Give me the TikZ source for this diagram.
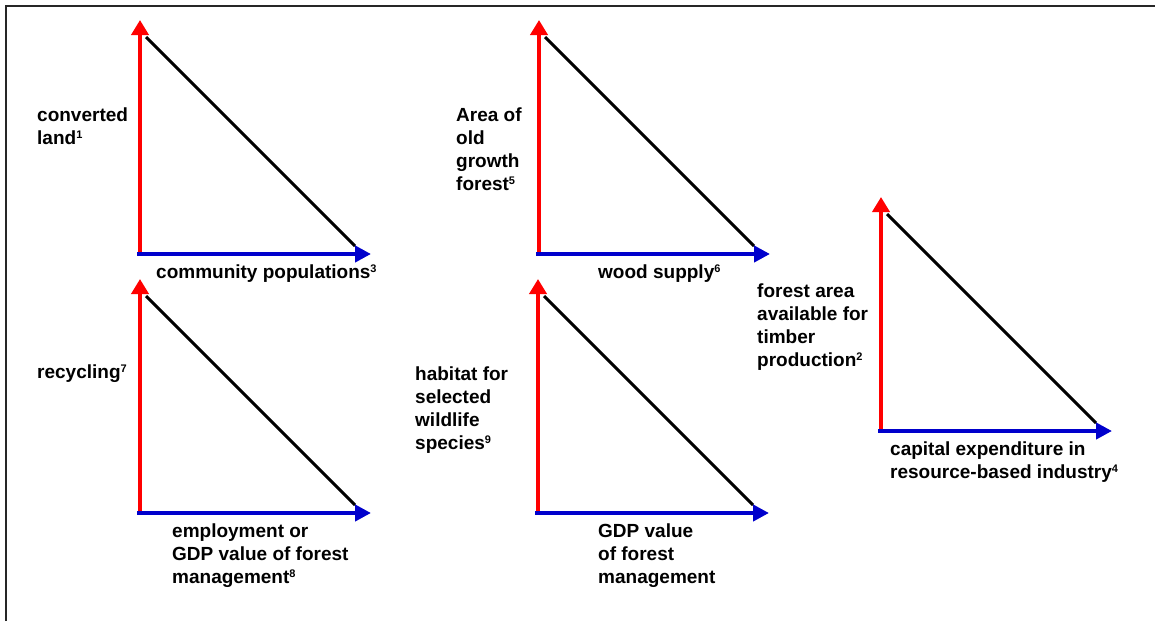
\documentclass[tikz,border=0pt]{standalone}
\usepackage{fontspec}
\setmainfont{Liberation Sans}
\usetikzlibrary{arrows.meta}
\definecolor{axred}{RGB}{255,0,0}
\definecolor{axblue}{RGB}{0,0,204}
\newcommand{\fnmark}[1]{\raisebox{6pt}{\fontsize{11}{11}\selectfont #1}}
\tikzset{
  yaxis/.style={draw=axred, line width=4.5pt, -{Triangle[length=15pt,width=17pt]}},
  xaxis/.style={draw=axblue, line width=4.3pt, -{Triangle[length=16pt,width=16pt]}},
  trend/.style={draw=black, line width=3pt},
  lbl/.style={anchor=base west, inner sep=0pt, align=left,
    font=\fontsize{19}{23}\selectfont\bfseries},
  frame/.style={draw=black!85, line width=2pt}
}
\begin{document}
\begin{tikzpicture}[x=1pt,y=-1pt]
\useasboundingbox (0,0) rectangle (1155,621);
\coordinate (fA) at (6,621);
\coordinate (fB) at (6,6);
\coordinate (fC) at (1155,6);
\draw[frame] (fA) -- (fB) -- (fC);
% triangle origins
\foreach \n/\ox/\oy in {t1/140/254, t2/539/254, t3/140/513, t4/538/513, t5/881/431}{
  \coordinate (\n o) at (\ox,\oy);
  \coordinate (\n y0) at (\ox,\oy+2);
  \coordinate (\n x0) at (\ox-3,\oy);
  \coordinate (\n yt) at (\ox,\oy-234);
  \coordinate (\n xt) at (\ox+231,\oy);
  \coordinate (\n a) at (\ox+6,\oy-217);
  \coordinate (\n b) at (\ox+215,\oy-8);
}
\foreach \n in {t1,t2,t3,t4,t5}{
  \draw[trend] (\n a) -- (\n b);
  \draw[yaxis] (\n y0) -- (\n yt);
  \draw[xaxis] (\n x0) -- (\n xt);
}
% labels (anchored at the baseline of the last line)
\node[lbl] (l1) at (37,144) {converted\\land\fnmark{1}};
\node[lbl] (l3) at (156,278) {community populations\fnmark{3}};
\node[lbl] (l5) at (456,190) {Area of\\old\\growth\\forest\fnmark{5}};
\node[lbl] (l6) at (598,278) {wood supply\fnmark{6}};
\node[lbl] (l2) at (757,366) {forest area\\available for\\timber\\production\fnmark{2}};
\node[lbl] (l4) at (890,478) {capital expenditure in\\resource-based industry\fnmark{4}};
\node[lbl] (l7) at (37,378) {recycling\fnmark{7}};
\node[lbl] (l8) at (172,583) {employment or\\GDP value of forest\\management\fnmark{8}};
\node[lbl] (l9) at (415,449) {habitat for\\selected\\wildlife\\species\fnmark{9}};
\node[lbl] (l10) at (598,583) {GDP value\\of forest\\management};
\end{tikzpicture}
\end{document}
